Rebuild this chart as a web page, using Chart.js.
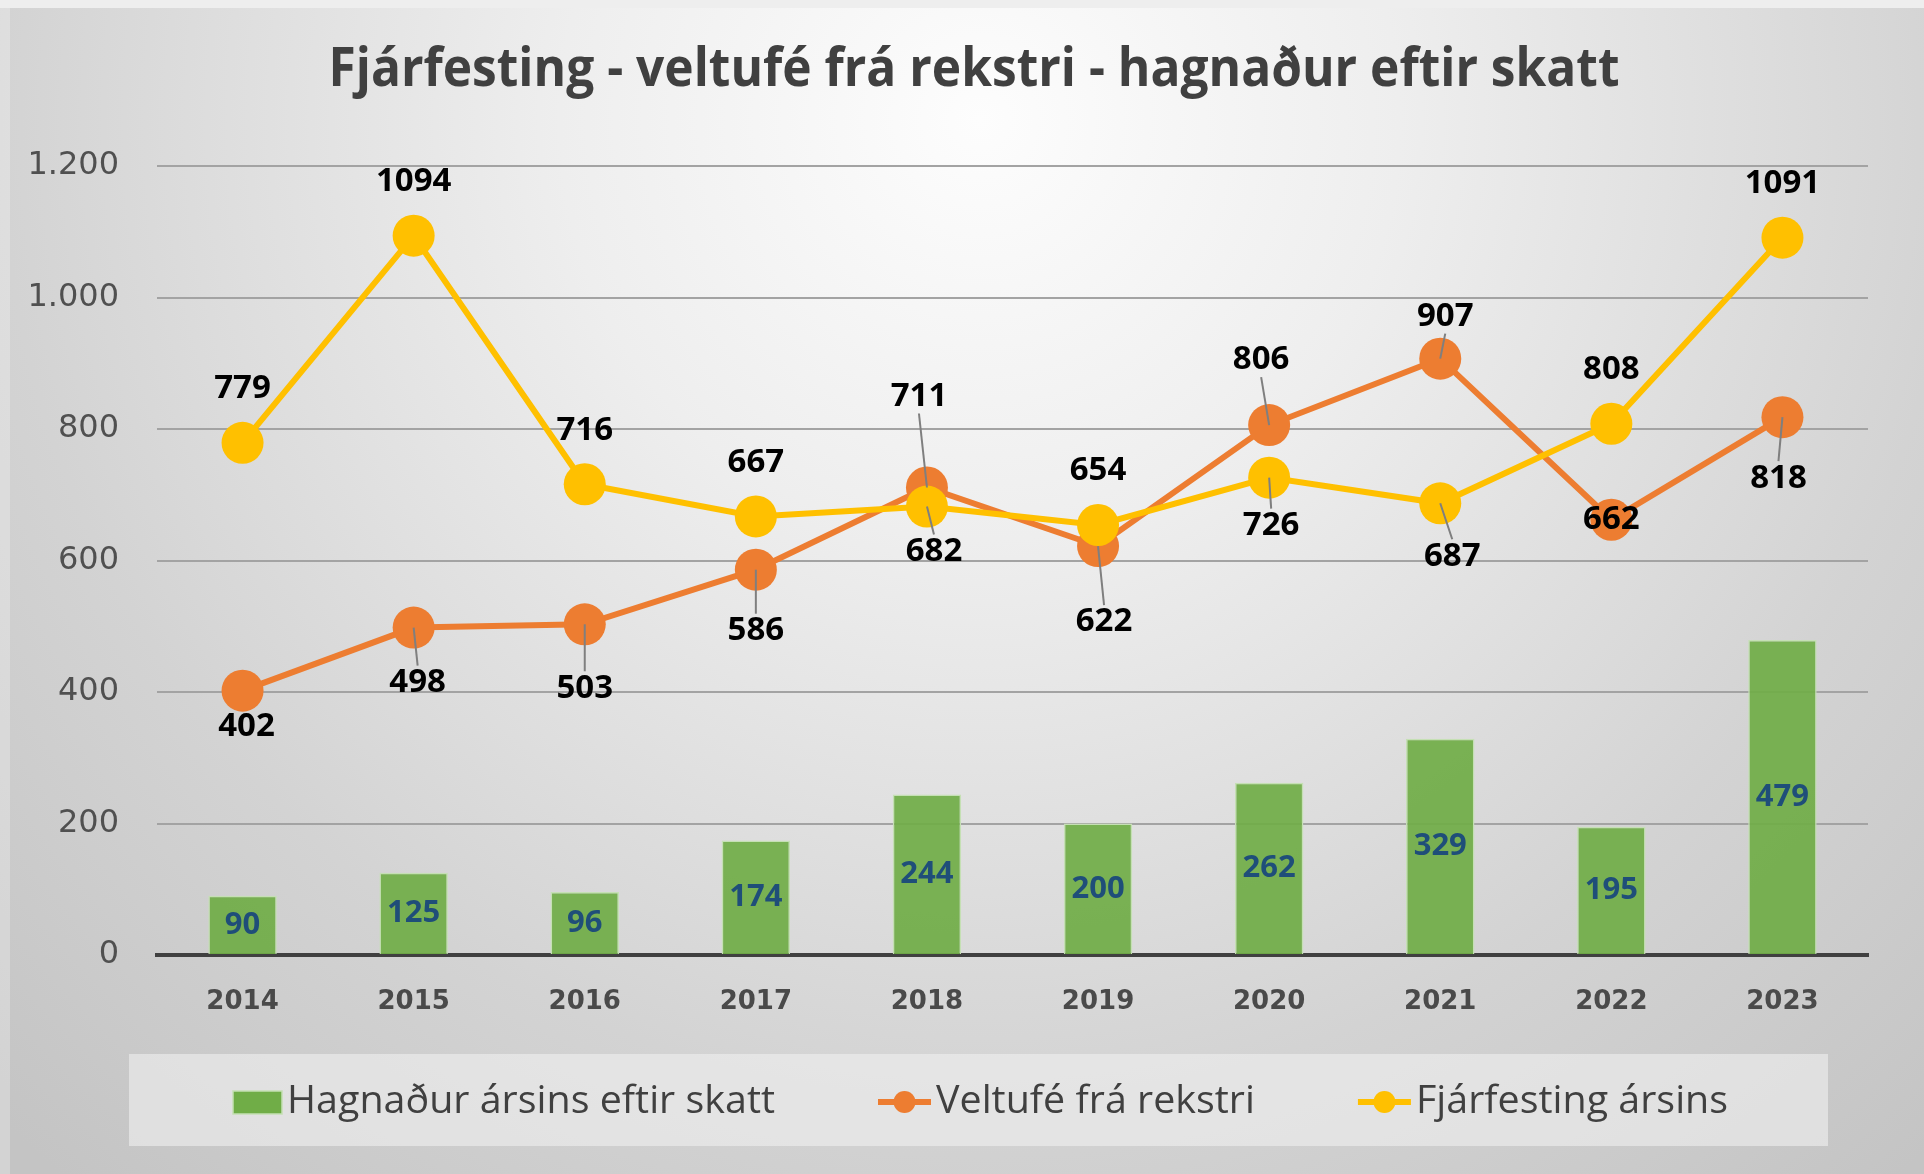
<!DOCTYPE html>
<html>
<head>
<meta charset="utf-8">
<script src="https://cdn.jsdelivr.net/npm/chart.js@4.4.1/dist/chart.umd.min.js"></script>
<style>
html, body { margin: 0; padding: 0; background: #d0d0d0; }
canvas { display: block; }
</style>
</head>
<body>
<canvas id="chart" width="1924" height="1174"></canvas>
<script>
// chart values
var years       = ['2014', '2015', '2016', '2017', '2018', '2019', '2020', '2021', '2022', '2023'];
var hagnadur    = [ 90, 125,  96, 174, 244, 200, 262, 329, 195, 479 ];
var veltufe     = [ 402, 498, 503, 586, 711, 622, 806, 907, 662, 818 ];
var fjarfesting = [ 779, 1094, 716, 667, 682, 654, 726, 687, 808, 1091 ];
var yTickValues = [ 0, 200, 400, 600, 800, 1000, 1200 ];

var chart_title = 'Fjárfesting - veltufé frá rekstri - hagnaður eftir skatt';
var series_names = [ 'Hagnaður ársins eftir skatt', 'Veltufé frá rekstri', 'Fjárfesting ársins' ];

// label placement for the line series: [dx, dy, leader line?]
var veltufe_lbl = [ [4,36,0], [4,55,1], [0,64,1], [0,61,1], [-8,-91,1], [6,76,1], [-8,-65,1], [5,-42,1], [0,0,0], [-4,61,1] ];
var fjarf_lbl   = [ [0,-54,0], [0,-54,0], [0,-54,0], [0,-54,0], [7,45,1], [0,-54,0], [2,48,1], [12,53,1], [0,-54,0], [0,-54,0] ];

var GREEN = '#70AD47', ORANGE = '#ED7D31', YELLOW = '#FFC000';

function fmt_thousands(v) {
	if (v >= 1000) {
		var r = String(v % 1000);
		while (r.length < 3) r = '0' + r;
		return Math.floor(v / 1000) + '.' + r;
	}
	return String(v);
}

// draw text squeezed horizontally (Calibri-like look)
function draw_text(ctx, text, x, y, font, color, sx, align) {
	ctx.save();
	ctx.font = font;
	ctx.fillStyle = color;
	ctx.textBaseline = 'middle';
	ctx.textAlign = align || 'center';
	ctx.translate(x, y);
	ctx.scale(sx, 1);
	ctx.fillText(text, 0, 0);
	ctx.restore();
}

var backgroundPlugin = {
	id: 'bg',
	beforeDraw: function(chart) {
		var ctx = chart.ctx;
		ctx.save();
		var g = ctx.createRadialGradient(980, 120, 0, 980, 120, 1400);
		g.addColorStop(0, '#fdfdfd');
		g.addColorStop(0.3, '#eeeeee');
		g.addColorStop(0.7, '#d3d3d3');
		g.addColorStop(1, '#c4c4c4');
		ctx.fillStyle = g;
		ctx.fillRect(0, 0, chart.width, chart.height);
		ctx.fillStyle = '#eeeeee';
		ctx.fillRect(0, 0, chart.width, 8);
		ctx.fillStyle = 'rgba(255,255,255,0.25)';
		ctx.fillRect(0, 8, 10, chart.height);
		// legend box
		ctx.fillStyle = 'rgba(240,240,240,0.6)';
		ctx.fillRect(129, 1054, 1699, 92);
		ctx.restore();
	}
};

var labelsPlugin = {
	id: 'labels',
	afterDatasetsDraw: function(chart) {
		var ctx = chart.ctx;
		// bar labels, centred in the bar
		var barMeta = chart.getDatasetMeta(0);
		barMeta.data.forEach(function(bar, i) {
			var y = (bar.y + bar.base) / 2;
			draw_text(ctx, String(hagnadur[i]), bar.x, y, 'bold 31px "Open Sans"', '#1F4E79', 1);
		});
		// line labels with leader lines
		[[1, veltufe, veltufe_lbl], [2, fjarfesting, fjarf_lbl]].forEach(function(s) {
			var meta = chart.getDatasetMeta(s[0]);
			meta.data.forEach(function(pt, i) {
				var p = s[2][i];
				var lx = pt.x + p[0], ly = pt.y + p[1];
				if (p[2]) {
					var ey = p[1] > 0 ? ly - 17 : ly + 17;
					ctx.save();
					ctx.strokeStyle = '#7f7f7f';
					ctx.lineWidth = 2;
					ctx.beginPath();
					ctx.moveTo(pt.x, pt.y);
					ctx.lineTo(lx, ey);
					ctx.stroke();
					ctx.restore();
				}
				draw_text(ctx, String(s[1][i]), lx, ly, 'bold 33px "Open Sans"', '#000000', 1);
			});
		});
	},
	afterDraw: function(chart) {
		var ctx = chart.ctx;
		// title
		ctx.save();
		ctx.font = 'bold 54px "Open Sans"';
		var tw = ctx.measureText(chart_title).width;
		ctx.restore();
		draw_text(ctx, chart_title, 974, 71, 'bold 54px "Open Sans"', '#404040', 1291 / tw);

		// legend
		var lfont = '39px "Open Sans"';
		ctx.save();
		ctx.font = lfont;
		var sx = 488 / ctx.measureText(series_names[0]).width;
		var widths = series_names.map(function(n) { return ctx.measureText(n).width * sx; });
		ctx.restore();
		var x = 233, cy = 1102;
		var colors = [ GREEN, ORANGE, YELLOW ];
		for (var i = 0; i < 3; i++) {
			ctx.save();
			if (i == 0) {
				ctx.fillStyle = GREEN;
				ctx.fillRect(x, cy - 11, 49, 23);
				ctx.strokeStyle = '#c5e0b4';
				ctx.lineWidth = 1.5;
				ctx.strokeRect(x, cy - 11, 49, 23);
				x += 49;
			} else {
				ctx.strokeStyle = colors[i];
				ctx.lineWidth = 6;
				ctx.beginPath();
				ctx.moveTo(x, cy);
				ctx.lineTo(x + 53, cy);
				ctx.stroke();
				ctx.fillStyle = colors[i];
				ctx.beginPath();
				ctx.arc(x + 26.5, cy, 11, 0, Math.PI * 2);
				ctx.fill();
				x += 53;
			}
			ctx.restore();
			x += 5;
			draw_text(ctx, series_names[i], x, cy, lfont, '#404040', sx, 'left');
			x += widths[i] + 103;
		}
	}
};

var ctx = document.getElementById('chart');
var cfg = {
	type: 'bar',
	data: {
		labels: years,
		datasets: [
			{	type: 'bar',
				label: series_names[0],
				data: hagnadur,
				backgroundColor: 'rgba(112,173,71,0.92)',
				borderColor: '#c5e0b4',
				borderWidth: 1.5,
				categoryPercentage: 1.0,
				barPercentage: 0.4,
				order: 2
			},
			{	type: 'line',
				label: series_names[1],
				data: veltufe,
				borderColor: ORANGE,
				backgroundColor: ORANGE,
				borderWidth: 6,
				pointRadius: 21,
				pointBorderWidth: 0,
				pointBackgroundColor: ORANGE,
				tension: 0,
				order: 1
			},
			{	type: 'line',
				label: series_names[2],
				data: fjarfesting,
				borderColor: YELLOW,
				backgroundColor: YELLOW,
				borderWidth: 6,
				pointRadius: 21,
				pointBorderWidth: 0,
				pointBackgroundColor: YELLOW,
				tension: 0,
				order: 0
			}
		]
	},
	options: {
		responsive: false,
		animation: false,
		layout: { padding: { left: 0, top: 166, right: 56, bottom: 0 } },
		plugins: {
			legend: { display: false },
			title: { display: false },
			tooltip: { enabled: false }
		},
		scales: {
			x: {
				offset: true,
				grid: { display: false, drawTicks: false },
				border: { display: true, color: '#404040', width: 4 },
				ticks: { color: '#4a4a4a', padding: 32, font: { family: 'DejaVu Sans', size: 26, weight: 'bold' } },
				afterFit: function(scale) { scale.height = 219; }
			},
			y: {
				min: 0,
				max: 1200,
				afterBuildTicks: function(scale) {
					scale.ticks = yTickValues.map(function(v) { return { value: v }; });
				},
				grid: {
					drawTicks: false,
					color: function(c) { return c.tick && c.tick.value === 0 ? 'rgba(0,0,0,0)' : '#a3a3a3'; },
					lineWidth: 2
				},
				border: { display: false },
				ticks: {
					color: '#505050',
					padding: 38,
					font: { family: 'DejaVu Sans', size: 32 },
					callback: function(v) { return fmt_thousands(v); }
				},
				afterFit: function(scale) { scale.width = 157; }
			}
		}
	},
	plugins: [ backgroundPlugin, labelsPlugin ]
};
new Chart(ctx, cfg);
</script>
</body>
</html>
